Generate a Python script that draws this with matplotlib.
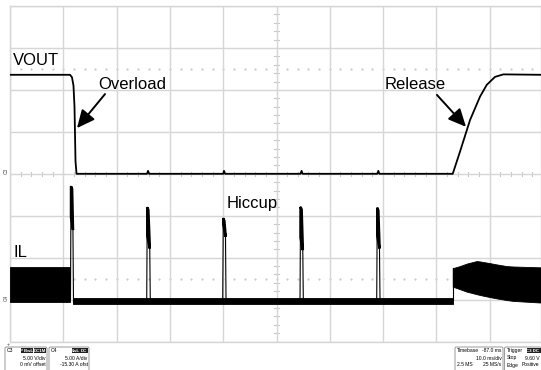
import numpy as np
import matplotlib.pyplot as plt
from matplotlib.patches import Rectangle, FancyBboxPatch

plt.rcParams['font.family'] = ['Liberation Sans', 'DejaVu Sans']

# scope settings
v_per_div = 5.0      # C3 VOUT
a_per_div = 5.0      # C4 IL
il_offset_div = -3.0 # IL zero sits 3 div below centre

# VOUT trace (ms, V)
vout_t = [0, 11.26, 11.63, 11.91, 12.10, 12.29, 12.48,
          25.7, 25.9, 26.1, 40.0, 40.15, 40.35, 54.5, 54.7, 54.9,
          68.9, 69.1, 69.3,
          83.06, 84.43, 86.30, 88.18, 89.44, 90.99, 92.55, 99.7]
vout_v = [11.8, 11.8, 11.5, 10.5, 8.0, 1.5, 0.0,
          0.0, 0.35, 0.0, 0.0, 0.35, 0.0, 0.0, 0.35, 0.0,
          0.0, 0.35, 0.0,
          0.0, 2.65, 6.4, 9.2, 10.6, 11.55, 11.85, 11.8]

# IL before overload: ripple band (ms, A)
il_pre_t = [0, 11.35]
il_pre_lo = [-0.3, -0.3]
il_pre_hi = [3.9, 3.9]

# IL during hiccup: near-zero noisy band
il_off_t = [11.9, 83.06]
il_off_lo = [-0.5, -0.5]
il_off_hi = [0.15, 0.15]

# hiccup current spikes
spike_rise = [11.35, 25.65, 39.91, 54.41, 68.80]
spike_fall = [11.91, 26.32, 40.53, 55.03, 69.42]
spike_peak = [13.5, 11.0, 9.7, 11.05, 10.95]
spike_tail = [8.3, 6.1, 7.5, 5.9, 6.1]

# IL after release: ripple envelope
il_rel_t = [83.06, 84.4, 85.7, 87.55, 88.2, 90.06, 91.3, 93.19, 94.4, 99.7]
il_rel_top = [3.75, 4.0, 4.3, 4.6, 4.55, 4.35, 4.2, 4.0, 3.95, 3.85]
il_rel_bot = [1.55, 1.25, 0.95, 0.65, 0.55, 0.3, 0.15, -0.05, -0.15, -0.35]


def vdiv(v):
    return np.asarray(v) / v_per_div


def idiv(a):
    return np.asarray(a) / a_per_div + il_offset_div


fig = plt.figure(figsize=(5.41, 3.70), dpi=100)
W, H = 541, 370
ax = fig.add_axes([10 / W, 1 - 341.6 / H, 531 / W, 335.6 / H])
ax.set_xlim(0, 99.62)
ax.set_ylim(-4, 4)

grid_c = '#d6d6d6'
ax.set_xticks(np.arange(0, 100, 10))
ax.set_yticks(np.arange(-4, 5, 1))
ax.tick_params(length=0, labelbottom=False, labelleft=False)
ax.grid(True, color=grid_c, lw=1.0, zorder=0)
ax.set_axisbelow(True)
for s in ax.spines.values():
    s.set_color(grid_c)
    s.set_linewidth(1.0)

# centre line minor ticks
for y in np.arange(-4, 4.01, 0.2):
    ax.plot([49.6, 50.4], [y, y], color='#c8c8c8', lw=0.8, zorder=0.5)
for x in np.arange(0, 100, 2):
    ax.plot([x, x], [-0.05, 0.05], color='#c8c8c8', lw=0.8, zorder=0.5)
# dotted helper lines
dots = np.arange(0, 100, 2)
ax.plot(dots, np.full(dots.size, 2.5), ls='none', marker='.', ms=1.2,
        color='#c8c8c8', zorder=0.5)
ax.plot(dots, np.full(dots.size, -2.5), ls='none', marker='.', ms=1.2,
        color='#c8c8c8', zorder=0.5)

# VOUT
ax.plot(vout_t, vdiv(vout_v), color='black', lw=1.3, solid_joinstyle='round', zorder=3)

# IL bands
ax.fill_between(il_pre_t, idiv(il_pre_lo), idiv(il_pre_hi), color='black', lw=0.6, zorder=3)
ax.fill_between(il_off_t, idiv(il_off_lo), idiv(il_off_hi), color='black', lw=0.6, zorder=3)
ax.fill_between(il_rel_t, idiv(il_rel_bot), idiv(il_rel_top), color='black', lw=0.6, zorder=3)
ax.plot([il_rel_t[0], il_rel_t[0]], idiv([0, il_rel_top[0]]), color='black', lw=0.8, zorder=3)

# spikes
for t0, t1, pk, tl in zip(spike_rise, spike_fall, spike_peak, spike_tail):
    ax.plot([t0, t0 + 0.1], idiv([0.0, pk]), color='black', lw=0.8, zorder=3)
    ax.fill([t0 + 0.1, t0 + 0.3, t1 - 0.1, t1 - 0.1, t0 + 0.1],
            idiv([pk, pk - 0.3, tl + 0.3, tl, tl + 1.5]), color='black', lw=1.8, zorder=3)
    ax.plot([t1 - 0.1, t1], idiv([tl, -0.3]), color='black', lw=0.8, zorder=3)

# labels
ax.text(0.56, 2.59, 'VOUT', fontsize=12, va='baseline', ha='left')
ax.text(16.5, 2.02, 'Overload', fontsize=12, va='baseline', ha='left')
ax.text(70.2, 2.02, 'Release', fontsize=12, va='baseline', ha='left')
ax.text(40.7, -0.82, 'Hiccup', fontsize=12, va='baseline', ha='left')
ax.text(0.75, -1.99, 'IL', fontsize=12, va='baseline', ha='left')

arrow = dict(arrowstyle='-|>,head_length=0.9,head_width=0.42', color='black',
             lw=1.4, mutation_scale=12, shrinkA=0, shrinkB=0)
ax.annotate('', xy=(12.57, 1.09), xytext=(17.82, 1.90), arrowprops=arrow)
ax.annotate('', xy=(85.55, 1.12), xytext=(80.1, 1.88), arrowprops=arrow)

# overlay in pixel coords for scope readouts
ov = fig.add_axes([0, 0, 1, 1])
ov.set_xlim(0, W)
ov.set_ylim(H, 0)
ov.axis('off')

ov.text(6.5, 171, 'C3', rotation=90, fontsize=3.5, ha='center', va='center', color='#444')
ov.text(6.5, 298, 'C4', rotation=90, fontsize=3.5, ha='center', va='center', color='#444')
ov.text(8, 344, '+', fontsize=4, ha='center', va='center', color='#444')

fs = 3.6


def box(x0, x1):
    ov.add_patch(FancyBboxPatch((x0, 347), x1 - x0, 26,
                                boxstyle='round,pad=0,rounding_size=1.5',
                                fc='white', ec='#8a8a8a', lw=0.6))


def badge(x0, x1, txt):
    ov.add_patch(Rectangle((x0, 347.8), x1 - x0, 5.6, fc='#222222', ec='none'))
    ov.text((x0 + x1) / 2, 350.7, txt, fontsize=fs - 0.4, color='white',
            ha='center', va='center', weight='bold')


box(5, 47)
ov.text(7, 350.7, 'C3', fontsize=fs, va='center')
badge(21, 33, 'P BwL')
badge(33.5, 46.3, 'DC1M')
ov.text(45.5, 358, '5.00 V/div', fontsize=fs, ha='right', va='center')
ov.text(45.5, 365, '0 mV offset', fontsize=fs, ha='right', va='center')

box(49, 89)
ov.text(51, 350.7, 'C4', fontsize=fs, va='center')
badge(72, 79.5, 'BwL')
badge(80, 88.3, 'DC')
ov.text(87.5, 358, '5.00 A/div', fontsize=fs, ha='right', va='center')
ov.text(87.5, 365, '-15.30 A ofst', fontsize=fs, ha='right', va='center')

box(455, 503)
ov.text(457, 350.7, 'Timebase', fontsize=fs, va='center')
ov.text(501.5, 350.7, '-87.0 ms', fontsize=fs, ha='right', va='center')
ov.text(501.5, 358, '10.0 ms/div', fontsize=fs, ha='right', va='center')
ov.text(457, 365, '2.5 MS', fontsize=fs, va='center')
ov.text(501.5, 365, '25 MS/s', fontsize=fs, ha='right', va='center')

box(504.5, 548)
ov.text(507, 350.7, 'Trigger', fontsize=fs, va='center')
badge(526.5, 548, '')
ov.text(539.5, 350.7, 'C3 DC', fontsize=fs - 0.4, color='white', ha='right',
        va='center', weight='bold')
ov.text(507, 358, 'Stop', fontsize=fs, va='center')
ov.text(539.5, 358, '9.60 V', fontsize=fs, ha='right', va='center')
ov.text(507, 365, 'Edge', fontsize=fs, va='center')
ov.text(539.5, 365, 'Positive', fontsize=fs, ha='right', va='center')

fig.savefig('out.png', dpi=100)
